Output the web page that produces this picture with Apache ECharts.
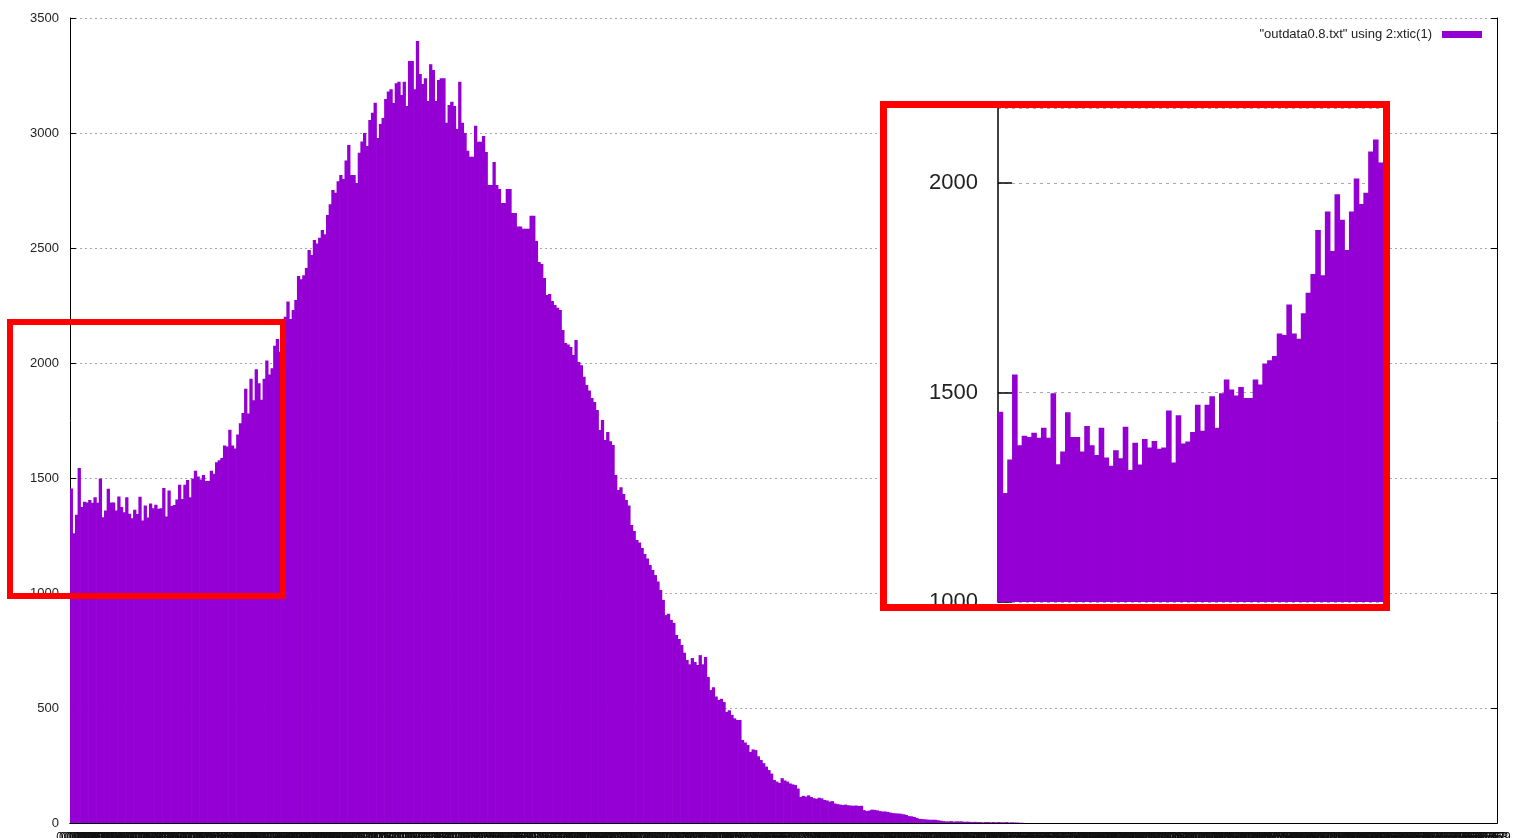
<!DOCTYPE html>
<html>
<head>
<meta charset="utf-8">
<script src="https://cdn.jsdelivr.net/npm/echarts@6/dist/echarts.min.js"></script>
<style>
  html, body { margin: 0; padding: 0; background: #fff; }
  #chart { width: 1517px; height: 838px; }
</style>
</head>
<body>
<div id="chart"></div>
<script>
// Histogram of column 2, one bar per row of the data file.
const seriesName = '"outdata0.8.txt" using 2:xtic(1)';
const binCount = 540;

// Counts per bin (rows past the end of this list are empty bins).
const counts = [
  1454, 1260, 1340, 1543, 1374, 1397, 1394, 1404, 1392, 1416,
  1392, 1498, 1329, 1359, 1453, 1394, 1394, 1359, 1420, 1374,
  1351, 1416, 1345, 1325, 1362, 1343, 1418, 1315, 1380, 1328,
  1389, 1369, 1384, 1366, 1369, 1457, 1333, 1446, 1378, 1383,
  1406, 1471, 1409, 1471, 1491, 1416, 1498, 1531, 1507, 1493,
  1513, 1487, 1487, 1531, 1519, 1569, 1577, 1587, 1641, 1637,
  1710, 1641, 1628, 1689, 1738, 1783, 1888, 1780, 1932, 1838,
  1973, 1912, 1840, 1932, 2011, 1950, 1977, 2075, 2104, 2049,
  2160, 2201, 2267, 2191, 2230, 2274, 2378, 2364, 2381, 2413,
  2491, 2470, 2535, 2520, 2545, 2578, 2560, 2644, 2690, 2752,
  2740, 2790, 2817, 2800, 2880, 2948, 2817, 2817, 2783, 2914,
  2963, 3000, 2943, 3056, 3088, 3132, 2978, 3039, 3065, 3148,
  3180, 3190, 3130, 3216, 3223, 3165, 3223, 3117, 3313, 3313,
  3190, 3400, 3257, 3213, 3238, 3139, 3299, 3274, 3139, 3230,
  3238, 3238, 3045, 3122, 3136, 3117, 3017, 3223, 3045, 3000,
  2923, 2897, 2897, 3032, 2962, 2962, 2987, 2917, 2774, 2774,
  2874, 2774, 2757, 2696, 2696, 2757, 2757, 2652, 2652, 2594,
  2594, 2584, 2584, 2584, 2640, 2640, 2530, 2439, 2430, 2370,
  2296, 2300, 2270, 2252, 2240, 2230, 2144, 2087, 2080, 2070,
  2035, 2100, 2004, 1990, 1940, 1904, 1880, 1848, 1830, 1796,
  1709, 1752, 1665, 1700, 1660, 1644, 1513, 1448, 1460, 1430,
  1404, 1380, 1296, 1270, 1230, 1220, 1196, 1170, 1150, 1122,
  1100, 1078, 1050, 1013, 970, 904, 910, 883, 870, 817,
  800, 774, 740, 709, 690, 717, 700, 687, 730, 690,
  722, 635, 578, 590, 550, 535, 540, 526, 483, 490,
  470, 455, 448, 448, 361, 350, 339, 309, 320, 317,
  290, 274, 260, 245, 230, 215, 187, 180, 174, 195,
  185, 180, 172, 168, 165, 150, 113, 118, 115, 120,
  113, 108, 105, 110, 107, 100, 98, 93, 95, 85,
  82, 80, 78, 80, 77, 76, 75, 76, 74, 75,
  56, 52, 54, 58, 57, 55, 52, 50, 50, 48,
  45, 43, 42, 41, 40, 38, 35, 30, 29, 26,
  22, 18, 17, 16, 15, 14, 14, 14, 12, 10,
  8, 7, 7, 8, 6, 7, 7, 7, 5, 6,
  5, 4, 5, 4, 4, 3, 4, 4, 3, 4,
  3, 4, 3, 3, 4, 2, 3, 2, 2, 1, 1
];

// Value axis of the full plot.
const yMin = 0, yMax = 3500, yStep = 500;

// Magnified view of the first bins.
const insetBins = 80;
const insetMin = 1000, insetMax = 2179, insetStep = 500;

// Row labels of column 1 (xtic).
const binLabels = [];
for (let i = 0; i < binCount; i++) binLabels.push((i / 1000).toFixed(3));

const FONT = '"Liberation Sans", Arial, sans-serif';
const BAR = '#9400d3';
const RED = '#ff0000';
const plain = v => String(v);

const chart = echarts.init(document.getElementById('chart'), null, { renderer: 'canvas' });

const option = {
  animation: false,
  backgroundColor: '#ffffff',
  textStyle: { fontFamily: FONT },
  legend: {
    data: [seriesName],
    right: 30,
    top: 23,
    icon: 'rect',
    itemWidth: 40,
    itemHeight: 7,
    align: 'right',
    selectedMode: false,
    textStyle: { fontSize: 13, color: '#222', fontFamily: FONT, padding: [0, 5, 0, 0] }
  },
  grid: [
    { left: 70, right: 20, top: 18, bottom: 15, outerBoundsMode: 'none', containLabel: false },
    { left: 998, top: 108, width: 385, height: 494, zlevel: 1, outerBoundsMode: 'none', containLabel: false }
  ],
  xAxis: [
    {
      gridIndex: 0, type: 'category', data: binLabels, position: 'bottom',
      axisLine: { lineStyle: { color: '#000', width: 1 } },
      axisTick: { inside: true, length: 7, interval: 0, alignWithLabel: true, lineStyle: { color: '#555', width: 1 } },
      axisLabel: { interval: 0, fontSize: 12, color: '#111', margin: 9, fontFamily: FONT },
      splitLine: { show: false }
    },
    {
      gridIndex: 0, type: 'category', data: binLabels, position: 'top',
      axisLine: { lineStyle: { color: '#000', width: 1 } },
      axisTick: { inside: true, length: 7, interval: 0, alignWithLabel: true, lineStyle: { color: '#555', width: 1 } },
      axisLabel: { show: false },
      splitLine: { show: false }
    },
    {
      gridIndex: 1, type: 'category', data: binLabels.slice(0, insetBins),
      show: false, zlevel: 1
    }
  ],
  yAxis: [
    {
      gridIndex: 0, type: 'value', min: yMin, max: yMax, interval: yStep, position: 'left',
      axisLine: { show: true, lineStyle: { color: '#000', width: 1 } },
      axisTick: { show: true, inside: true, length: 6, lineStyle: { color: '#000' } },
      axisLabel: { fontSize: 13, color: '#222', margin: 11, fontFamily: FONT, formatter: plain },
      splitLine: { show: true, lineStyle: { color: '#a8a8a8', width: 1, type: [2, 3] } }
    },
    {
      gridIndex: 0, type: 'value', min: yMin, max: yMax, interval: yStep, position: 'right',
      axisLine: { show: true, lineStyle: { color: '#000', width: 1 } },
      axisTick: { show: true, inside: true, length: 6, lineStyle: { color: '#000' } },
      axisLabel: { show: false },
      splitLine: { show: false }
    },
    {
      gridIndex: 1, type: 'value', min: insetMin, max: insetMax, interval: insetStep,
      zlevel: 1, z: 2,
      axisLine: { show: true, lineStyle: { color: '#000', width: 1.5 } },
      axisTick: { show: true, inside: true, length: 14, lineStyle: { color: '#000', width: 1.5 } },
      axisLabel: { fontSize: 22, color: '#222', margin: 20, showMaxLabel: false, fontFamily: FONT, formatter: plain },
      splitLine: { show: true, lineStyle: { color: '#a8a8a8', width: 1.2, type: [3, 4] } }
    }
  ],
  series: [
    {
      name: seriesName, type: 'bar', xAxisIndex: 0, yAxisIndex: 0,
      data: counts, barWidth: 3.3,
      itemStyle: { color: BAR }
    },
    {
      name: seriesName, type: 'bar', xAxisIndex: 2, yAxisIndex: 2,
      data: counts.slice(0, insetBins), barWidth: 5.6,
      zlevel: 1, z: 3,
      itemStyle: { color: BAR }
    }
  ],
  graphic: [
    // white backing of the magnified view
    { type: 'rect', zlevel: 1, z: 0, silent: true,
      shape: { x: 880, y: 101, width: 510, height: 510 },
      style: { fill: '#ffffff' } },
    // trims the lowest inset label below the frame
    { type: 'rect', zlevel: 1, z: 99, silent: true,
      shape: { x: 920, y: 611, width: 70, height: 8 },
      style: { fill: '#ffffff' } },
    // frame around the magnified view
    { type: 'rect', zlevel: 1, z: 100, silent: true,
      shape: { x: 883.5, y: 104.5, width: 503, height: 503 },
      style: { fill: 'none', stroke: RED, lineWidth: 7 } },
    // frame around the magnified region of the histogram
    { type: 'rect', zlevel: 1, z: 100, silent: true,
      shape: { x: 10, y: 322, width: 273, height: 274 },
      style: { fill: 'none', stroke: RED, lineWidth: 6 } }
  ]
};

chart.setOption(option);
</script>
</body>
</html>
